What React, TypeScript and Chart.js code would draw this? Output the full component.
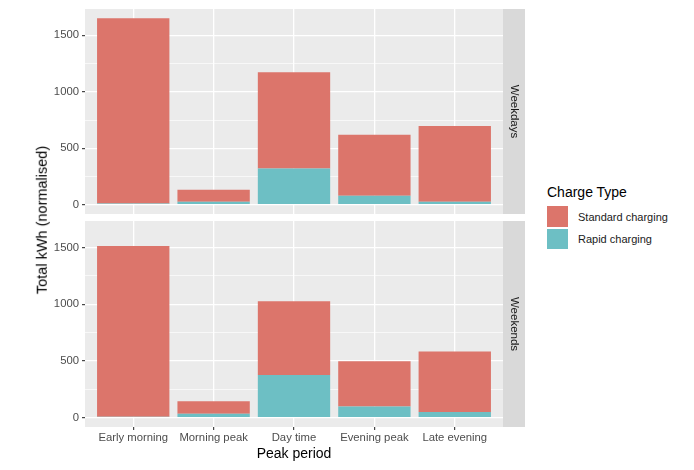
import React, { useEffect, useRef } from "react";
import { Chart, registerables } from "chart.js";

Chart.register(...registerables);

// ---- data ----
const categories = ["Early morning", "Morning peak", "Day time", "Evening peak", "Late evening"];
const facets = ["Weekdays", "Weekends"];
const seriesNames = ["Standard charging", "Rapid charging"];
const weekdayRapid = [10, 27, 321, 80, 27];
const weekdayStandard = [1641, 106, 852, 539, 669];
const weekendRapid = [8, 35, 375, 98, 50];
const weekendStandard = [1506, 110, 651, 399, 532];
const yTicks = [0, 250, 500, 750, 1000, 1250, 1500];
const yLabelTicks = [0, 500, 1000, 1500];

const STANDARD_COLOR = "#DC756B";
const RAPID_COLOR = "#6DBFC4";
const FONT = '"Liberation Sans", Arial, Helvetica, sans-serif';

const totals = [
  ...weekdayRapid.map((v, i) => v + weekdayStandard[i]),
  ...weekendRapid.map((v, i) => v + weekendStandard[i]),
];
const maxTotal = Math.max(...totals);
const Y_MIN = -0.05 * maxTotal;
const Y_MAX = maxTotal * 1.05;

type PanelProps = {
  facet: string;
  rapid: number[];
  standard: number[];
  showX: boolean;
  top: number;
  height: number;
  padTop: number;
  padBottom: number;
  xHeight: number;
};

function Panel(p: PanelProps) {
  const ref = useRef<HTMLCanvasElement>(null);
  useEffect(() => {
    if (!ref.current) return;
    const deco = {
      id: "panelDeco",
      beforeDraw(chart: any) {
        const { ctx, chartArea: a } = chart;
        ctx.save();
        ctx.fillStyle = "#EBEBEB";
        ctx.fillRect(a.left, a.top, a.right - a.left, a.bottom - a.top);
        ctx.fillStyle = "#D9D9D9";
        ctx.fillRect(a.right, a.top, 22, a.bottom - a.top);
        ctx.translate(a.right + 11.5, (a.top + a.bottom) / 2);
        ctx.rotate(Math.PI / 2);
        ctx.fillStyle = "#1A1A1A";
        ctx.font = `11.5px ${FONT}`;
        ctx.textAlign = "center";
        ctx.textBaseline = "middle";
        ctx.fillText(p.facet, 0, 0);
        ctx.restore();
      },
    };
    const toPts = (arr: number[]) => arr.map((v, i) => ({ x: i + 1, y: v }));
    const chart = new Chart(ref.current, {
      type: "bar",
      data: {
        datasets: [
          {
            label: seriesNames[1],
            data: toPts(p.rapid),
            backgroundColor: RAPID_COLOR,
            borderWidth: 0,
            barPercentage: 0.9,
            categoryPercentage: 1,
          },
          {
            label: seriesNames[0],
            data: toPts(p.standard),
            backgroundColor: STANDARD_COLOR,
            borderWidth: 0,
            barPercentage: 0.9,
            categoryPercentage: 1,
          },
        ],
      } as any,
      options: {
        animation: false,
        responsive: false,
        maintainAspectRatio: false,
        events: [],
        layout: { padding: { left: 0, right: 27, top: p.padTop, bottom: p.padBottom } },
        plugins: { legend: { display: false }, tooltip: { enabled: false } },
        scales: {
          x: {
            type: "linear",
            min: 0.4,
            max: 5.6,
            offset: false,
            stacked: true,
            afterBuildTicks: (s: any) => {
              s.ticks = categories.map((_, i) => ({ value: i + 1 }));
            },
            afterFit: (s: any) => {
              s.height = p.xHeight;
              s.paddingLeft = 0;
              s.paddingRight = 0;
              s.paddingTop = 0;
              s.paddingBottom = 0;
            },
            ticks: {
              display: p.showX,
              autoSkip: false,
              maxRotation: 0,
              padding: 1,
              color: "#4D4D4D",
              font: { family: FONT, size: 11.3 },
              callback: (v: any) => categories[Math.round(Number(v)) - 1] ?? "",
            },
            grid: {
              color: "#FFFFFF",
              lineWidth: 1.3,
              offset: false,
              drawTicks: p.showX,
              tickLength: 3,
              tickColor: "#333333",
              tickWidth: 1.1,
            },
            border: { display: false },
          },
          y: {
            type: "linear",
            min: Y_MIN,
            max: Y_MAX,
            stacked: true,
            afterBuildTicks: (s: any) => {
              s.ticks = yTicks.map((v) => ({ value: v }));
            },
            afterFit: (s: any) => {
              s.width = 85;
              s.paddingTop = 0;
              s.paddingBottom = 0;
              s.paddingLeft = 0;
              s.paddingRight = 0;
            },
            ticks: {
              autoSkip: false,
              padding: 3,
              color: "#4D4D4D",
              font: { family: FONT, size: 11.3 },
              callback: (v: any) => (yLabelTicks.includes(Number(v)) ? String(v) : ""),
            },
            grid: {
              color: "#FFFFFF",
              lineWidth: (c: any) => (yLabelTicks.includes(c.tick?.value) ? 1.3 : 0.65),
              tickLength: 3,
              tickColor: (c: any) => (yLabelTicks.includes(c.tick?.value) ? "#333333" : "rgba(0,0,0,0)"),
              tickWidth: 1.1,
            },
            border: { display: false },
          },
        },
      } as any,
      plugins: [deco],
    });
    return () => chart.destroy();
  }, []);
  return (
    <canvas
      ref={ref}
      width={530}
      height={p.height}
      style={{ position: "absolute", left: 0, top: p.top, width: 530, height: p.height }}
    />
  );
}

export default function App() {
  const textBase: React.CSSProperties = {
    position: "absolute",
    fontFamily: FONT,
    whiteSpace: "nowrap",
    lineHeight: 1,
  };
  return (
    <div style={{ position: "fixed", left: 0, top: 0, width: 694, height: 470, background: "#FFFFFF", overflow: "hidden" }}>
      <Panel facet={facets[0]} rapid={weekdayRapid} standard={weekdayStandard} showX={false}
        top={0} height={217} padTop={9} padBottom={3} xHeight={0} />
      <Panel facet={facets[1]} rapid={weekendRapid} standard={weekendStandard} showX={true}
        top={217} height={253} padTop={4} padBottom={23} xHeight={20} />
      <div style={{ ...textBase, left: 42, top: 220, fontSize: 14.5, color: "#000", transform: "translate(-50%, -50%) rotate(-90deg)" }}>
        Total kWh (normalised)
      </div>
      <div style={{ ...textBase, left: 294, top: 453, fontSize: 14, color: "#000", transform: "translate(-50%, -50%)" }}>
        Peak period
      </div>
      <div style={{ ...textBase, left: 547, top: 192, fontSize: 14, color: "#000", transform: "translateY(-50%)" }}>
        Charge Type
      </div>
      <div style={{ position: "absolute", left: 547, top: 206, width: 21, height: 20.5, background: STANDARD_COLOR }} />
      <div style={{ position: "absolute", left: 547, top: 228.5, width: 21, height: 20.5, background: RAPID_COLOR }} />
      <div style={{ ...textBase, left: 578, top: 216.5, fontSize: 11, color: "#1A1A1A", transform: "translateY(-50%)" }}>
        {seriesNames[0]}
      </div>
      <div style={{ ...textBase, left: 578, top: 239, fontSize: 11, color: "#1A1A1A", transform: "translateY(-50%)" }}>
        {seriesNames[1]}
      </div>
    </div>
  );
}
